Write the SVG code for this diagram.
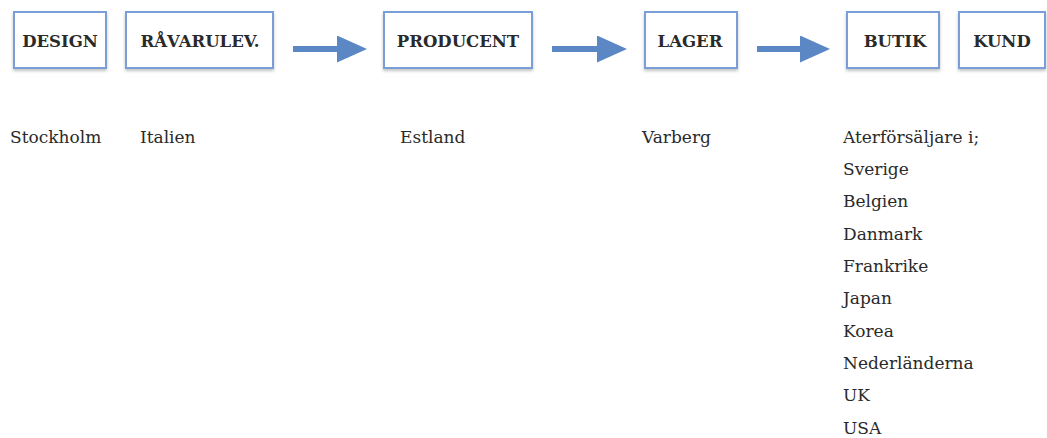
<svg xmlns="http://www.w3.org/2000/svg" width="1047" height="438" viewBox="0 0 1047 438">
<defs>
<filter id="sh" x="-10%" y="-10%" width="120%" height="140%">
<feDropShadow dx="0" dy="2" stdDeviation="1.5" flood-color="#888" flood-opacity="0.5"/>
</filter>
<marker id="ah" viewBox="0 0 10 9" refX="0" refY="4.5" markerWidth="5" markerHeight="4.5" markerUnits="strokeWidth" orient="auto">
<path d="M0,0 L10,4.5 L0,9 Z" fill="#5b87c5"/>
</marker>
</defs>
<style>
rect.box{fill:#fff;stroke:#7a9fd6;stroke-width:2;filter:url(#sh)}
text.lbl{font-family:"DejaVu Serif","Liberation Serif",serif;font-weight:bold;font-size:16.5px;fill:#2a2a2a;text-anchor:middle}
text.loc{font-family:"DejaVu Serif","Liberation Serif",serif;font-size:17px;fill:#2a2a2a}
.conn path{fill:none;stroke:#5b87c5;stroke-width:6;marker-end:url(#ah)}
</style>
<g id="design"><rect class="box" x="14" y="12" width="92" height="56"/><text class="lbl" x="60" y="47">DESIGN</text></g>
<g id="ravarulev"><rect class="box" x="126" y="12" width="147" height="56"/><text class="lbl" x="200" y="47">RÅVARULEV.</text></g>
<g id="producent"><rect class="box" x="384" y="12" width="148" height="56"/><text class="lbl" x="458" y="47">PRODUCENT</text></g>
<g id="lager"><rect class="box" x="645" y="12" width="92" height="56"/><text class="lbl" x="690" y="47">LAGER</text></g>
<g id="butik"><rect class="box" x="847" y="12" width="92" height="56"/><text class="lbl" x="895" y="47">BUTIK</text></g>
<g id="kund"><rect class="box" x="959" y="12" width="86" height="56"/><text class="lbl" x="1002" y="47">KUND</text></g>
<g class="conn">
<path d="M293,49 L337,49"/>
<path d="M552,49 L597,49"/>
<path d="M757,49 L800,49"/>
</g>
<g id="locations">
<text class="loc" x="10" y="143">Stockholm</text>
<text class="loc" x="140" y="143">Italien</text>
<text class="loc" x="400" y="143">Estland</text>
<text class="loc" x="642" y="143">Varberg</text>
<text class="loc" x="843" y="143">Aterförsäljare i;</text>
<text class="loc" x="843" y="175">Sverige</text>
<text class="loc" x="843" y="207">Belgien</text>
<text class="loc" x="843" y="240">Danmark</text>
<text class="loc" x="843" y="272">Frankrike</text>
<text class="loc" x="843" y="304">Japan</text>
<text class="loc" x="843" y="337">Korea</text>
<text class="loc" x="843" y="369">Nederländerna</text>
<text class="loc" x="843" y="401">UK</text>
<text class="loc" x="843" y="434">USA</text>
</g>
</svg>
